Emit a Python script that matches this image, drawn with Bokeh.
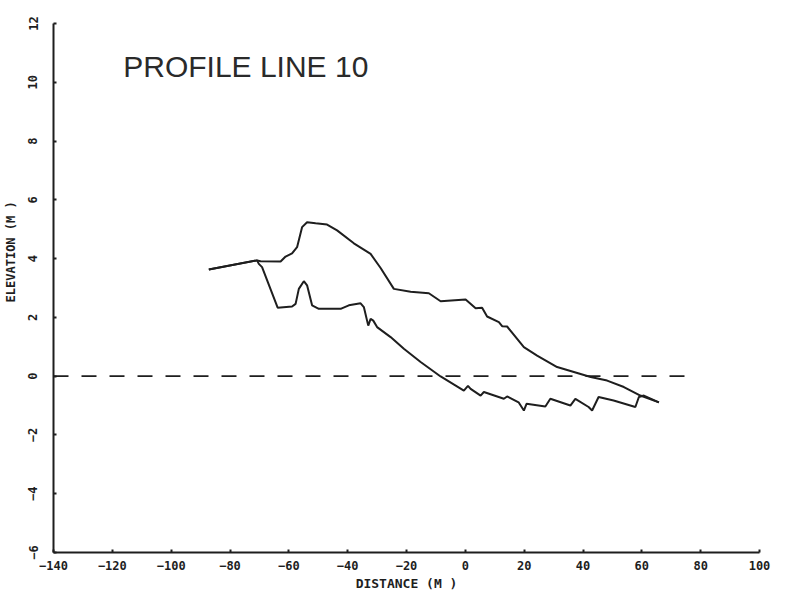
import math
from bokeh.plotting import figure
from bokeh.models import Range1d, FixedTicker, Label
from bokeh.embed import file_html
from bokeh.resources import INLINE

# ---- data ----
x_ticks = [-140, -120, -100, -80, -60, -40, -20, 0, 20, 40, 60, 80, 100]
y_ticks = [-6, -4, -2, 0, 2, 4, 6, 8, 10, 12]

upper_x = [-87.2, -70.8, -69.6, -62.8, -61.1, -58.9, -57.2, -55.5, -53.8, -50.9,
           -47.0, -43.6, -37.9, -32.2, -28.8, -24.3, -18.6, -12.4, -8.4, 0.1,
           3.5, 5.7, 7.4, 11.4, 12.5, 14.2, 19.9, 24.4, 31.2, 36.9,
           42.6, 48.2, 53.9, 59.5, 65.8]
upper_y = [3.63, 3.94, 3.91, 3.90, 4.07, 4.18, 4.39, 5.07, 5.24, 5.20,
           5.16, 4.96, 4.52, 4.16, 3.68, 2.97, 2.87, 2.82, 2.55, 2.61,
           2.31, 2.33, 2.03, 1.84, 1.70, 1.69, 0.99, 0.70, 0.31, 0.14,
           -0.03, -0.15, -0.37, -0.66, -0.89]

lower_x = [-87.2, -70.8, -70.2, -69.1, -63.8, -58.9, -57.7, -56.6, -54.9, -53.8,
           -52.1, -49.8, -42.4, -39.6, -35.6, -34.5, -33.0, -32.2, -31.3, -30.0,
           -25.4, -20.9, -15.2, -8.4, -0.5, 0.9, 1.8, 5.2, 6.3, 13.1,
           14.2, 18.1, 19.9, 20.8, 27.2, 28.9, 35.7, 37.4, 41.9, 43.1,
           45.3, 50.4, 57.8, 59.0, 60.7, 65.8]
lower_y = [3.63, 3.94, 3.82, 3.71, 2.33, 2.37, 2.46, 2.97, 3.23, 3.09,
           2.41, 2.29, 2.29, 2.41, 2.48, 2.35, 1.72, 1.95, 1.89, 1.67,
           1.33, 0.93, 0.48, -0.01, -0.49, -0.33, -0.43, -0.66, -0.54, -0.77,
           -0.69, -0.89, -1.17, -0.94, -1.03, -0.77, -1.00, -0.77, -1.05, -1.17,
           -0.71, -0.83, -1.05, -0.71, -0.66, -0.89]

datum_x = [-140, 77]
datum_y = [0, 0]

INK = "#1e1e1e"
TICK_FONT = "DejaVu Sans Mono"

p = figure(frame_width=706, frame_height=529,
           x_range=Range1d(-140, 100), y_range=Range1d(-6, 12),
           output_backend="svg", toolbar_location=None,
           min_border_left=53, min_border_right=19,
           min_border_top=23, min_border_bottom=36)

p.outline_line_color = None
p.xgrid.visible = False
p.ygrid.visible = False
p.background_fill_color = "white"
p.border_fill_color = "white"

for ax in (p.xaxis[0], p.yaxis[0]):
    ax.axis_line_width = 2
    ax.axis_line_color = INK
    ax.major_tick_in = 3
    ax.major_tick_out = 0
    ax.major_tick_line_color = INK
    ax.major_tick_line_width = 2
    ax.minor_tick_line_color = None
    ax.major_label_text_font = TICK_FONT
    ax.major_label_text_font_style = "bold"
    ax.major_label_text_font_size = "12px"
    ax.major_label_text_color = INK

p.xaxis.ticker = FixedTicker(ticks=x_ticks)
p.yaxis.ticker = FixedTicker(ticks=y_ticks)
p.xaxis.major_label_standoff = 8
p.yaxis.major_label_standoff = 16
p.yaxis.major_label_orientation = "vertical"

p.xaxis.axis_label = "DISTANCE (M )"
p.xaxis.axis_label_text_font = TICK_FONT
p.xaxis.axis_label_text_font_style = "bold"
p.xaxis.axis_label_text_font_size = "13px"
p.xaxis.axis_label_text_color = INK
p.xaxis.axis_label_standoff = 3

# y label sits above the frame centre in the original: pad its start with
# non-breaking spaces so the visible text moves up
p.yaxis.axis_label = "\u00a0" * 10 + "ELEVATION (M )"
p.yaxis.axis_label_text_font = TICK_FONT
p.yaxis.axis_label_text_font_style = "bold"
p.yaxis.axis_label_text_font_size = "12px"
p.yaxis.axis_label_text_color = INK
p.yaxis.axis_label_standoff = 8

# datum (zero) line
p.line(datum_x, datum_y, line_color=INK, line_width=1.8, line_dash="15 13")

# profiles
p.line(upper_x, upper_y, line_color=INK, line_width=2)
p.line(lower_x, lower_y, line_color=INK, line_width=2)

# title inside the plot
p.add_layout(Label(x=-116.3, y=10.52, text="PROFILE LINE 10",
                   text_align="left", text_baseline="alphabetic",
                   text_font="Liberation Sans", text_font_size="30px",
                   text_color="#2a2a2a"))

open("out.html", "w").write(file_html(p, INLINE))
